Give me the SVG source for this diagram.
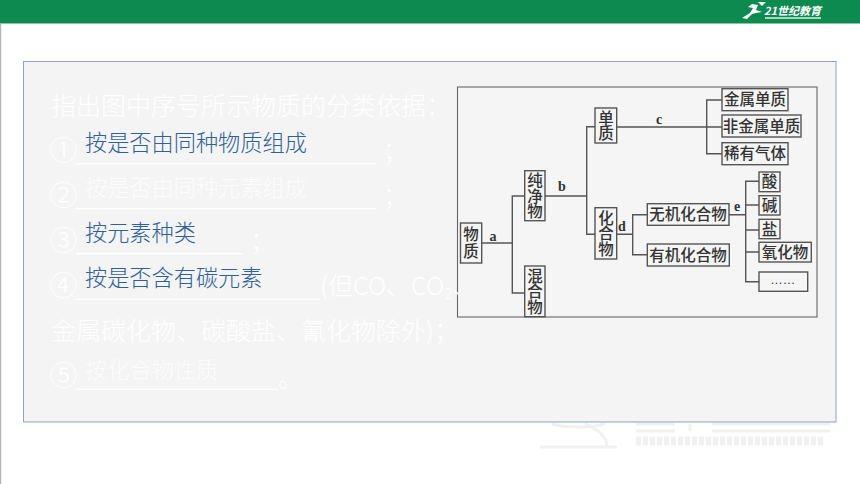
<svg xmlns="http://www.w3.org/2000/svg" width="860" height="484" viewBox="0 0 860 484">
<style>
.w{font-family:"Noto Sans CJK SC","Liberation Sans",sans-serif;font-size:25px;font-weight:300;fill:#ffffff}
.num{font-family:"Noto Sans CJK SC",sans-serif;font-size:28px;font-weight:300;fill:#ffffff}
.ans{font-family:"Noto Sans CJK SC",sans-serif;font-size:22.2px;font-weight:300;fill:#2f6199}
.answ{font-family:"Noto Sans CJK SC",sans-serif;font-size:22.2px;font-weight:300;fill:#ffffff;opacity:.8}
.ul{stroke:#ffffff;stroke-width:1.2;fill:none}
.box{fill:#f5f5f5;stroke:#555;stroke-width:1.4}
.n{font-family:"Noto Sans CJK SC",sans-serif;font-size:15.5px;font-weight:500;fill:#333;text-anchor:middle}
.v{writing-mode:vertical-rl;dominant-baseline:central}
.l{font-family:"Liberation Serif",serif;font-size:14px;font-weight:700;fill:#333;text-anchor:middle}
.c{stroke:#555;stroke-width:1.4;fill:none}
.wm{fill:none;stroke:#f1f1f1;stroke-width:3}
</style>
<rect width="860" height="484" fill="#ffffff"/>
<rect x="0" y="24" width="1.2" height="460" fill="#b4b4b4"/>
<rect width="860" height="23.5" fill="#0c8a50"/>
<g id="logo">
<path d="M742 18 L750 13 L753 8 L748 7 L752 4 L758 5 L756 10 L762 12 L756 13 L752 14 L747 19 Z M758 2 L766 2 L762 6 Z" fill="#ffffff"/>
<text x="764" y="14.5" font-family="Noto Sans CJK SC,sans-serif" font-size="11" font-weight="700" font-style="italic" fill="#ffffff">21世纪教育</text>
<rect x="765" y="17" width="56" height="2" fill="#a9d5bd"/>
</g>
<g id="watermark">
<path class="wm" d="M552 424 C565 428 590 428 605 424 M585 424 C600 430 607 438 607 447 M540 447 H617"/>
<path class="wm" d="M636 424 H675 M636 431 H675 M690 424 V431 M712 424 H830 M712 431 H830"/>
<path d="M636 441 H825" stroke="#f1f1f1" stroke-width="9" stroke-dasharray="5 2" fill="none"/>
</g>
<rect id="panel" x="23.5" y="61.5" width="812.5" height="360.5" fill="#f4f4f4" stroke="#8ea3bd" stroke-width="1"/>
<g id="diagram-frame"><rect x="457.5" y="87" width="359.5" height="230" fill="#f5f5f5" stroke="#666" stroke-width="1.1"/></g>
<g id="connectors">
<path class="c" d="M481.7 243H512.3M524.7 196H512.3V293H524.7"/>
<path class="c" d="M545 196H586.7M595 126.7H586.7V234.3H595"/>
<path class="c" d="M616.7 127H722M722 100H706.7V153.7H722"/>
<path class="c" d="M616.7 234.3H632.7M647.3 214.7H632.7V254.7H647.3"/>
<path class="c" d="M729 214.7H745.7M759 181.3H745.7V281.7H759M745.7 205H759M745.7 230H759M745.7 252H759"/>
</g>
<g id="label-a"><text class="l" x="493" y="241">a</text></g>
<g id="label-b"><text class="l" x="562" y="191">b</text></g>
<g id="label-c"><text class="l" x="659" y="124">c</text></g>
<g id="label-d"><text class="l" x="622" y="231">d</text></g>
<g id="label-e"><text class="l" x="737" y="211">e</text></g>
<g id="n-wuzhi"><rect class="box" x="460.5" y="223" width="21.2" height="40"/><text class="n v" x="471" y="243" style="letter-spacing:1.5px">物质</text></g>
<g id="n-chunjing"><rect class="box" x="524.7" y="170.7" width="20.3" height="50"/><text class="n v" x="535" y="195.7">纯净物</text></g>
<g id="n-hunhe"><rect class="box" x="524.7" y="266" width="20.3" height="50.7"/><text class="n v" x="535" y="291.3">混合物</text></g>
<g id="n-danzhi"><rect class="box" x="595" y="108" width="21.7" height="35"/><text class="n v" x="606" y="125.5">单质</text></g>
<g id="n-huahe"><rect class="box" x="595" y="207.7" width="21.7" height="51.3"/><text class="n v" x="606" y="233.3">化合物</text></g>
<g id="n-jinshu"><rect class="box" x="722" y="88.7" width="66" height="22"/><text class="n" x="755" y="105">金属单质</text></g>
<g id="n-feijinshu"><rect class="box" x="722" y="115" width="79" height="22"/><text class="n" x="761.5" y="131.5">非金属单质</text></g>
<g id="n-xiyou"><rect class="box" x="722" y="142.7" width="66" height="22"/><text class="n" x="755" y="159">稀有气体</text></g>
<g id="n-wuji"><rect class="box" x="647.3" y="203.7" width="81.7" height="21.6"/><text class="n" x="688" y="220">无机化合物</text></g>
<g id="n-youji"><rect class="box" x="647.3" y="244" width="82" height="22"/><text class="n" x="688" y="260.5">有机化合物</text></g>
<g id="n-suan"><rect class="box" x="759" y="172" width="21" height="19.7"/><text class="n" x="769.5" y="187">酸</text></g>
<g id="n-jian"><rect class="box" x="759" y="195.7" width="21" height="19.3"/><text class="n" x="769.5" y="210.5">碱</text></g>
<g id="n-yan"><rect class="box" x="759" y="219.3" width="21" height="19.4"/><text class="n" x="769.5" y="234.5">盐</text></g>
<g id="n-yanghua"><rect class="box" x="759" y="242.3" width="52.3" height="19.7"/><text class="n" x="785" y="257.5">氧化物</text></g>
<g id="n-more"><rect class="box" x="759" y="272" width="48.7" height="19.3"/><text class="l" x="783" y="284" style="font-weight:400;font-size:12px;letter-spacing:.5px">……</text></g>
<g id="question">
<text class="w" x="51" y="115">指出图中序号所示物质的分类依据：</text>
<text class="num" x="49.5" y="160.5">①</text><text class="w" x="383" y="160">；</text>
<text class="num" x="49.5" y="205.5">②</text><text class="w" x="383" y="205">；</text>
<text class="num" x="49.5" y="250.5">③</text><text class="w" x="250" y="250">；</text>
<text class="num" x="49.5" y="295.5">④</text><text class="w" x="320" y="295">(但CO、CO<tspan dy="4" style="font-size:15px">2</tspan><tspan dy="-4">、</tspan></text>
<text class="w" x="51" y="340">金属碳化物、碳酸盐、氰化物除外)；</text>
<text class="num" x="49.5" y="385.5">⑤</text><text class="w" x="278" y="387">。</text>
<path class="ul" d="M76 163.7H376M76 208.7H376M76 253.7H243M76 299.3H320M76 389.3H278"/>
</g>
<g id="answers">
<text class="ans" x="85" y="151">按是否由同种物质组成</text>
<text class="answ" x="85" y="196">按是否由同种元素组成</text>
<text class="ans" x="85" y="241">按元素种类</text>
<text class="ans" x="85" y="286">按是否含有碳元素</text>
<text class="answ" x="85" y="378">按化合物性质</text>
</g>
</svg>
